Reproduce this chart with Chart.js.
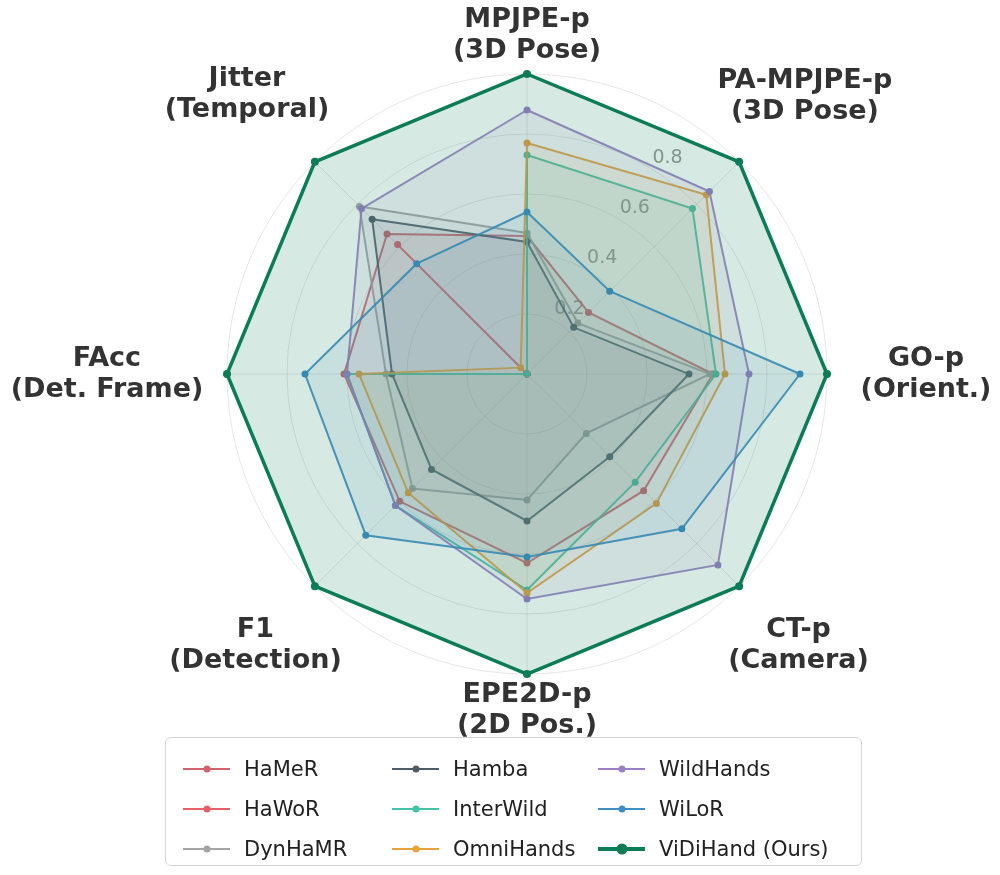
<!DOCTYPE html>
<html>
<head>
<meta charset="utf-8">
<script src="https://cdn.jsdelivr.net/npm/chart.js@4.4.1/dist/chart.umd.min.js"></script>
<style>
  html, body { margin: 0; padding: 0; background: #fff; }
  #wrap { position: relative; width: 1000px; height: 875px; }
  #radar { position: absolute; left: 0; top: 0; }
  #legend {
    position: absolute; left: 165px; top: 737px; width: 697px; height: 129px;
    box-sizing: border-box; border: 1px solid #d4d4d4; border-radius: 6px;
    background: rgba(255,255,255,0.85);
    display: grid; grid-template-columns: 209px 206px auto; grid-auto-rows: 40px;
    padding: 11px 0 0 17px;
    font-family: 'DejaVu Sans', sans-serif; font-size: 21px; color: #222;
  }
  .item { display: flex; align-items: center; }
  .mark { position: relative; width: 47px; height: 2px; margin-right: 14px; }
  .mark i { position: absolute; left: 50%; top: 50%; width: 7px; height: 7px; border-radius: 50%; transform: translate(-50%, -50%); }
</style>
</head>
<body>
<div id="wrap">
  <canvas id="radar" width="1000" height="875"></canvas>
  <div id="legend"></div>
</div>
<script>
// Axis names (two lines each), clockwise from the top
const axisNames = [
  ['MPJPE-p', '(3D Pose)'],
  ['PA-MPJPE-p', '(3D Pose)'],
  ['GO-p', '(Orient.)'],
  ['CT-p', '(Camera)'],
  ['EPE2D-p', '(2D Pos.)'],
  ['F1', '(Detection)'],
  ['FAcc', '(Det. Frame)'],
  ['Jitter', '(Temporal)']
];

const methods = ['HaMeR', 'HaWoR', 'DynHaMR', 'Hamba', 'InterWild', 'OmniHands', 'WildHands', 'WiLoR', 'ViDiHand (Ours)'];

// Normalised scores per axis (same order as axisNames)
const hamer     = [0.46, 0.29, 0.62, 0.55, 0.63, 0.60, 0.61, 0.66];
const hawor     = [0.00, 0.00, 0.00, 0.00, 0.00, 0.00, 0.00, 0.61];
const dynhamr   = [0.47, 0.24, 0.61, 0.28, 0.42, 0.54, 0.47, 0.79];
const hamba     = [0.44, 0.22, 0.54, 0.39, 0.49, 0.45, 0.45, 0.73];
const interwild = [0.73, 0.78, 0.63, 0.51, 0.72, 0.62, 0.60, 0.00];
const omnihands = [0.77, 0.845, 0.66, 0.61, 0.73, 0.56, 0.56, 0.03];
const wildhands = [0.88, 0.86, 0.74, 0.90, 0.75, 0.62, 0.60, 0.78];
const wilor     = [0.54, 0.39, 0.91, 0.73, 0.61, 0.76, 0.74, 0.52];
const vidihand  = [1.00, 1.00, 1.00, 1.00, 1.00, 1.00, 1.00, 1.00];

const seriesValues = [hamer, hawor, dynhamr, hamba, interwild, omnihands, wildhands, wilor, vidihand];
const tickValues = [0.2, 0.4, 0.6, 0.8];

const colors = ['#d1636c', '#e8606a', '#a4a4a4', '#4e5c68', '#45c3a6', '#e9a33c', '#9b7fc5', '#3f8dc5', '#0b7c55'];

// where each axis title sits, as a multiple of the outer radius
const labelReach = [1.13, 1.31, 1.33, 1.28, 1.12, 1.28, 1.40, 1.32];

function hexToRgba(hex, a) {
  const n = parseInt(hex.slice(1), 16);
  return `rgba(${(n >> 16) & 255}, ${(n >> 8) & 255}, ${n & 255}, ${a})`;
}

const datasets = methods.map((name, i) => {
  const ours = i === methods.length - 1;
  return {
    label: name,
    data: seriesValues[i],
    borderColor: hexToRgba(colors[i], ours ? 1 : 0.9),
    backgroundColor: hexToRgba(colors[i], ours ? 0.17 : 0.09),
    borderWidth: ours ? 3.5 : 2,
    pointRadius: ours ? 4 : 3.5,
    pointBackgroundColor: colors[i],
    pointBorderWidth: 0,
    fill: true,
    order: methods.length - i
  };
});

// tick labels along a slanted ray, under the polygons
const tickLabelPlugin = {
  id: 'tickLabels',
  beforeDatasetsDraw(chart) {
    const scale = chart.scales.r;
    const ctx = chart.ctx;
    const a = (33 - 90) * Math.PI / 180;
    ctx.save();
    ctx.font = '19px "DejaVu Sans"';
    ctx.fillStyle = 'rgba(128, 128, 128, 0.8)';
    ctx.textAlign = 'center';
    ctx.textBaseline = 'middle';
    tickValues.forEach(v => {
      const d = scale.getDistanceFromCenterForValue(v) + 18;
      ctx.fillText(v.toFixed(1), scale.xCenter + Math.cos(a) * d, scale.yCenter + Math.sin(a) * d);
    });
    ctx.restore();
  }
};

// centred two-line axis titles
const axisTitlePlugin = {
  id: 'axisTitles',
  afterDraw(chart) {
    const scale = chart.scales.r;
    const ctx = chart.ctx;
    ctx.save();
    ctx.font = 'bold 27px "DejaVu Sans"';
    ctx.fillStyle = '#333333';
    ctx.textAlign = 'center';
    ctx.textBaseline = 'middle';
    axisNames.forEach((lines, i) => {
      const p = scale.getPointPosition(i, scale.drawingArea * labelReach[i]);
      lines.forEach((t, k) => {
        ctx.fillText(t, p.x, p.y + (k - (lines.length - 1) / 2) * 31);
      });
    });
    ctx.restore();
  }
};

new Chart(document.getElementById('radar'), {
  type: 'radar',
  data: {
    labels: axisNames.map(l => l.join(' ')),
    datasets: datasets
  },
  options: {
    responsive: false,
    animation: false,
    layout: { padding: { left: 227, right: 173, top: 74, bottom: 201 } },
    plugins: {
      legend: { display: false },
      tooltip: { enabled: false }
    },
    elements: { line: { tension: 0 } },
    scales: {
      r: {
        min: 0,
        max: 1,
        ticks: { display: false, stepSize: 0.2 },
        grid: { circular: true, color: 'rgba(0, 0, 0, 0.1)', lineWidth: 1 },
        angleLines: { color: 'rgba(0, 0, 0, 0.1)', lineWidth: 1 },
        pointLabels: { display: false }
      }
    }
  },
  plugins: [tickLabelPlugin, axisTitlePlugin]
});

// legend laid out column by column, like the original
const legend = document.getElementById('legend');
const rows = 3;
for (let r = 0; r < rows; r++) {
  for (let c = 0; c < 3; c++) {
    const i = c * rows + r;
    const ours = i === methods.length - 1;
    const item = document.createElement('div');
    item.className = 'item';
    const mark = document.createElement('span');
    mark.className = 'mark';
    mark.style.background = colors[i];
    if (ours) mark.style.height = '4px';
    const dot = document.createElement('i');
    dot.style.background = colors[i];
    if (ours) { dot.style.width = '11px'; dot.style.height = '11px'; }
    mark.appendChild(dot);
    const text = document.createElement('span');
    text.textContent = methods[i];
    item.appendChild(mark);
    item.appendChild(text);
    legend.appendChild(item);
  }
}
</script>
</body>
</html>
